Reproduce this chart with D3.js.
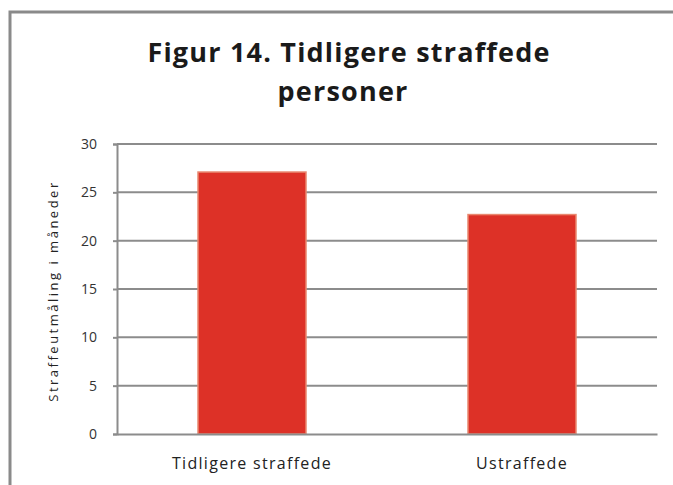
<!DOCTYPE html>
<html>
<head>
<meta charset="utf-8">
<script src="https://cdn.jsdelivr.net/npm/d3@7"></script>
<style>
  body { margin: 0; background: #fff; }
  text { font-family: "Open Sans", sans-serif; }
</style>
</head>
<body>
<script>
// chart data
const categories = ["Tidligere straffede", "Ustraffede"];
const values = [27.1, 22.7];
const yTicks = [0, 5, 10, 15, 20, 25, 30];

const W = 673, H = 485;
const margin = {top: 144, right: 16, bottom: 51, left: 117};
const font = "'Open Sans', sans-serif";

const svg = d3.select("body").append("svg")
    .attr("width", W)
    .attr("height", H);

// frame (top + left border only, like the cropped original)
svg.append("path")
    .attr("d", `M10,${H} L10,12 L${W},12`)
    .attr("fill", "none")
    .attr("stroke", "#8a8a8a")
    .attr("stroke-width", 3);

// title
const title = svg.append("text")
    .attr("text-anchor", "middle")
    .attr("font-weight", "bold")
    .attr("font-size", 27)
    .attr("letter-spacing", 1.2)
    .attr("fill", "#1a1a1a");
title.append("tspan").attr("x", 349).attr("y", 62).text("Figur 14. Tidligere straffede");
title.append("tspan").attr("x", 343).attr("y", 101).text("personer");

const x = d3.scaleBand()
    .domain(categories)
    .range([margin.left, W - margin.right])
    .paddingInner(0.6)
    .paddingOuter(0.3);

const y = d3.scaleLinear()
    .domain([0, 30])
    .range([H - margin.bottom, margin.top]);

// gridlines
svg.append("g")
    .selectAll("line")
    .data(yTicks.filter(d => d > 0))
    .join("line")
    .attr("x1", margin.left)
    .attr("x2", W - margin.right)
    .attr("y1", d => y(d))
    .attr("y2", d => y(d))
    .attr("stroke", "#8c8c8c")
    .attr("stroke-width", 2);

// y axis
const yAxis = svg.append("g")
    .attr("transform", `translate(${margin.left},0)`)
    .call(d3.axisLeft(y).tickValues(yTicks).tickSize(4).tickPadding(16));
yAxis.select(".domain").attr("stroke", "#8c8c8c").attr("stroke-width", 2);
yAxis.selectAll(".tick line").attr("stroke", "#8c8c8c").attr("stroke-width", 2);
yAxis.selectAll(".tick text")
    .attr("font-size", 14)
    .attr("fill", "#333")
    .style("font-family", font);

// bars
svg.append("g")
    .selectAll("rect")
    .data(values)
    .join("rect")
    .attr("x", (d, i) => x(categories[i]))
    .attr("y", d => y(d))
    .attr("width", x.bandwidth())
    .attr("height", d => y(0) - y(d))
    .attr("fill", "#dd3127")
    .attr("stroke", "#e9876f")
    .attr("stroke-width", 1.5);

// x axis
const xAxis = svg.append("g")
    .attr("transform", `translate(0,${H - margin.bottom})`)
    .call(d3.axisBottom(x).tickSize(0).tickPadding(24));
xAxis.select(".domain")
    .attr("stroke", "#8c8c8c")
    .attr("stroke-width", 2);
xAxis.selectAll(".tick text")
    .attr("font-size", 16)
    .attr("letter-spacing", 1.3)
    .attr("fill", "#222")
    .style("font-family", font);

// y label
svg.append("text")
    .attr("transform", `translate(58,${(y(0) + y(30)) / 2 + 2}) rotate(-90)`)
    .attr("text-anchor", "middle")
    .attr("font-size", 13)
    .attr("letter-spacing", 2.5)
    .attr("fill", "#222")
    .text("Straffeutmåling i måneder");
</script>
</body>
</html>
